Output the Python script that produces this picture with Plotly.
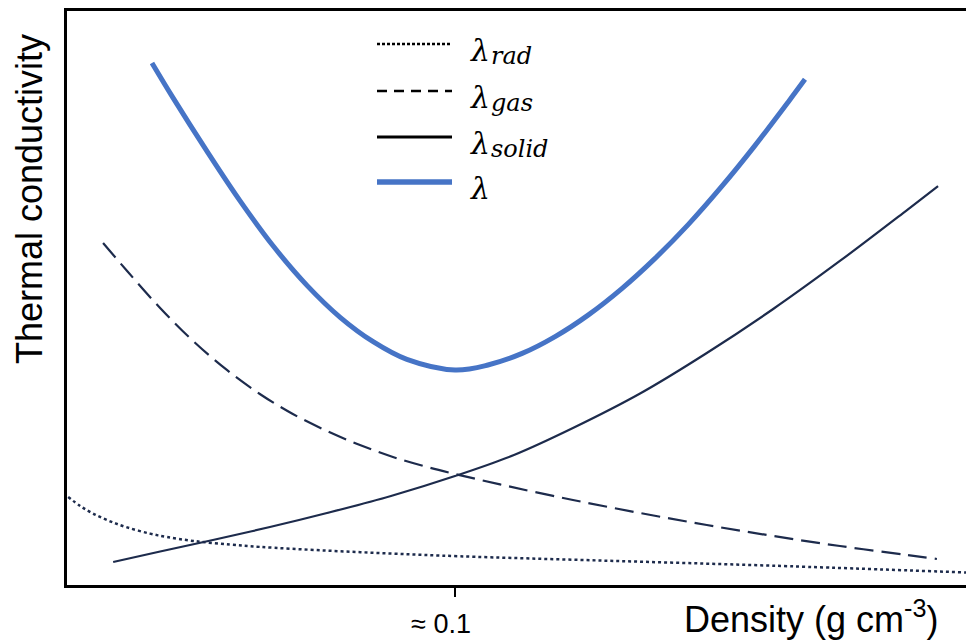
import plotly.graph_objects as go

# Density (g cm^-3) and relative thermal conductivity (arbitrary units)
total_density = [0.0219, 0.0273, 0.0361, 0.0446, 0.0531, 0.0619, 0.0704, 0.0789, 0.0876, 0.1000,
                 0.1085, 0.1173, 0.1258, 0.1343, 0.1430, 0.1515, 0.1601, 0.1688, 0.1773, 0.1858, 0.1902]
total_k = [9.094, 8.490, 7.554, 6.692, 5.909, 5.216, 4.664, 4.239, 3.930, 3.746,
           3.833, 4.035, 4.328, 4.702, 5.164, 5.686, 6.279, 6.948, 7.655, 8.408, 8.810]

gas_density = [0.0093, 0.0155, 0.0240, 0.0325, 0.0412, 0.0497, 0.0582, 0.0670, 0.0755, 0.0840,
               0.0928, 0.1000, 0.1134, 0.1304, 0.1477, 0.1649, 0.1820, 0.1992, 0.2165, 0.2242]
gas_k = [5.958, 5.470, 4.826, 4.251, 3.746, 3.328, 2.979, 2.683, 2.439, 2.230,
         2.056, 1.934, 1.725, 1.481, 1.254, 1.045, 0.854, 0.679, 0.523, 0.453]

solid_density = [0.0119, 0.0240, 0.0376, 0.0523, 0.0670, 0.0835, 0.1000, 0.1152, 0.1304, 0.1477,
                 0.1649, 0.1820, 0.1992, 0.2165, 0.2245]
solid_k = [0.401, 0.584, 0.784, 1.010, 1.254, 1.551, 1.899, 2.265, 2.735, 3.336,
           4.042, 4.808, 5.645, 6.533, 6.951]

rad_density = [0.0003, 0.0034, 0.0067, 0.0111, 0.0155, 0.0214, 0.0258, 0.0325, 0.0420, 0.0497,
               0.0670, 0.0840, 0.1013, 0.1392, 0.1820, 0.2317]
rad_k = [1.533, 1.376, 1.246, 1.110, 1.003, 0.895, 0.836, 0.768, 0.704, 0.664,
         0.599, 0.547, 0.500, 0.423, 0.336, 0.218]

legend_symbol = "λ"
legend_subscripts = ["rad", "gas", "solid", ""]
tick_values = [0.1]
tick_labels = ["≈ 0.1"]
x_title = "Density (g cm<sup>-3</sup>)"
y_title = "Thermal conductivity"

NAVY = "#1d2b4c"
BLUE = "#4674c6"

fig = go.Figure()
fig.add_trace(go.Scatter(x=rad_density, y=rad_k, mode="lines",
                         line=dict(color=NAVY, width=2.5, dash="3px,3px", shape="spline", smoothing=1.0)))
fig.add_trace(go.Scatter(x=gas_density, y=gas_k, mode="lines",
                         line=dict(color=NAVY, width=2.2, dash="19px,8px", shape="spline", smoothing=1.0)))
fig.add_trace(go.Scatter(x=solid_density, y=solid_k, mode="lines",
                         line=dict(color=NAVY, width=2.2, shape="spline", smoothing=1.0)))
fig.add_trace(go.Scatter(x=total_density, y=total_k, mode="lines",
                         line=dict(color=BLUE, width=5, shape="spline", smoothing=1.0)))

# Hand-made legend (long line samples as in the reference)
W, H = 899.0, 574.0
def px(xp):
    return (xp - 67) / W
def py(yp):
    return (585 - yp) / H

leg_y = [44, 91, 137, 182]
leg_styles = [dict(color="black", width=2.5, dash="3px,2px"),
              dict(color="black", width=2.5, dash="10px,7px"),
              dict(color="black", width=3),
              dict(color=BLUE, width=5.5)]
shapes = []
annotations = []
for sub, yy, st in zip(legend_subscripts, leg_y, leg_styles):
    shapes.append(dict(type="line", xref="paper", yref="paper", x0=px(377), x1=px(452), y0=py(yy), y1=py(yy), line=st))
    annotations.append(dict(xref="paper", yref="paper", x=px(468), y=py(yy + 6), xanchor="left", yanchor="middle",
                            text="<i>" + legend_symbol + "</i>", showarrow=False,
                            font=dict(family="DejaVu Serif", size=30, color="black")))
    if sub:
        annotations.append(dict(xref="paper", yref="paper", x=px(489), y=py(yy + 12), xanchor="left", yanchor="middle",
                                text="<i>" + sub + "</i>", showarrow=False,
                                font=dict(family="DejaVu Serif", size=24, color="black")))

annotations.append(dict(xref="paper", yref="paper", x=px(30), y=py(199), text=y_title, textangle=-90,
                        showarrow=False, xanchor="center", yanchor="middle",
                        font=dict(family="Liberation Sans, Arial", size=36, color="black")))
annotations.append(dict(xref="paper", yref="paper", x=px(811), y=py(617), text=x_title,
                        showarrow=False, xanchor="center", yanchor="middle",
                        font=dict(family="Liberation Sans, Arial", size=36, color="black")))

fig.update_layout(
    width=966, height=640,
    margin=dict(l=67, r=0, t=11, b=55),
    paper_bgcolor="white", plot_bgcolor="white",
    showlegend=False,
    shapes=shapes, annotations=annotations,
    xaxis=dict(range=[0, 0.2317], showgrid=False, zeroline=False, showline=True, linecolor="black", linewidth=3,
               mirror=True, ticks="outside", ticklen=9, tickwidth=2, tickcolor="black",
               tickvals=tick_values, ticktext=tick_labels, ticklabelshift=-14, ticklabelstandoff=4,
               tickfont=dict(family="Liberation Sans, Arial", size=27, color="black")),
    yaxis=dict(range=[0, 10], showgrid=False, zeroline=False, showline=True, linecolor="black", linewidth=3,
               showticklabels=False, ticks=""),
)

fig.write_html("out.html", config={"displayModeBar": False},
               post_script="document.body.style.margin='0px';document.body.style.overflow='hidden';")
